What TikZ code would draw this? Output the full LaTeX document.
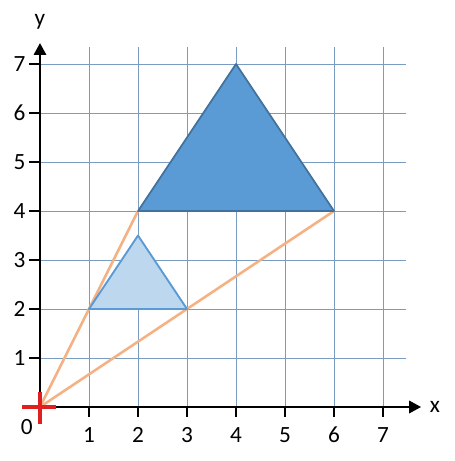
\documentclass[tikz,border=0pt]{standalone}
\usepackage{fontspec}
\setmainfont{Carlito}
\usetikzlibrary{arrows.meta}
\definecolor{gridc}{HTML}{7A9CC0}
\definecolor{bigfill}{HTML}{5B9BD5}
\definecolor{bigedge}{HTML}{41719C}
\definecolor{smallfill}{HTML}{BDD7EE}
\definecolor{smalledge}{HTML}{5B9BD5}
\definecolor{rayc}{HTML}{F4B183}
\definecolor{crossc}{HTML}{E02020}
\tikzset{
  gridline/.style={gridc, line width=0.55pt},
  axis/.style={black, line width=1.7pt, -{Triangle[length=7pt,width=7pt]}},
  tickmark/.style={black, line width=1.7pt},
  lbl/.style={font=\fontsize{13.5}{16}\selectfont, inner sep=0pt},
  ray/.style={rayc, line width=1.5pt},
  bigtri/.style={fill=bigfill, draw=bigedge, line width=1pt, line join=round},
  smalltri/.style={fill=smallfill, draw=smalledge, line width=1.1pt, line join=round},
  crossline/.style={crossc, line width=2pt}
}
\begin{document}
\begin{tikzpicture}
\useasboundingbox (-0.816,-1.102) rectangle (8.469,8.306);
% grid
\foreach \i in {1,...,7} {
  \draw[gridline] (\i,0) -- (\i,7.35);
  \draw[gridline] (0,\i) -- (7.47,\i);
}
% named points
\coordinate (O) at (0,0);
\coordinate (A) at (1,2);
\coordinate (B) at (3,2);
\coordinate (C) at (2,3.5);
\coordinate (A2) at (2,4);
\coordinate (B2) at (6,4);
\coordinate (C2) at (4,7);
% rays
\draw[ray] (O) -- (A2);
\draw[ray] (O) -- (B2);
% triangles
\draw[smalltri] (A) -- (B) -- (C) -- cycle;
\draw[bigtri] (A2) -- (B2) -- (C2) -- cycle;
% axes
\coordinate (xend) at (7.78,0);
\coordinate (yend) at (0,7.43);
\draw[axis] (O) -- (xend);
\draw[axis] (O) -- (yend);
% ticks and labels
\foreach \i in {1,...,7} {
  \draw[tickmark] (\i,0) -- (\i,-0.2);
  \draw[tickmark] (0,\i) -- (-0.22,\i);
  \node[lbl] (xl\i) at (\i,-0.57) {\i};
  \node[lbl] (yl\i) at (-0.42,\i) {\i};
}
\node[lbl] (zero) at (-0.27,-0.41) {0};
\node[lbl] (xlab) at (8.06,0) {x};
\node[lbl] (ylab) at (0,7.86) {y};
% red cross at origin
\draw[crossline] (-0.36,0) -- (0.33,0);
\draw[crossline] (0,0.31) -- (0,-0.35);
\end{tikzpicture}
\end{document}
